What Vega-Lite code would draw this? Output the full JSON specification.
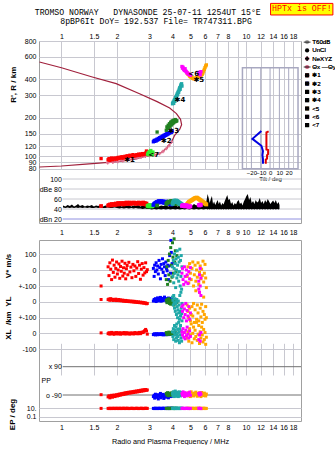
{
"$schema":"https://vega.github.io/schema/vega-lite/v6.json",
"padding":{"left":3,"top":2,"right":0,"bottom":0},
"background":"#ffffff",
"bounds":"flush",
"spacing":17,
"config":{
 "view":{"stroke":"#a0a0a0","strokeWidth":1},
 "axis":{"labelFont":"Liberation Sans","labelFontSize":7,"labelColor":"#000000","titleFont":"Liberation Sans","titleColor":"#000000","ticks":false,"domain":false,"gridColor":"#c8c8d0","gridWidth":1,"labelOverlap":false,"labelFlush":false,"labelBound":false}
},
"resolve":{"scale":{"color":"independent"}},
"datasets":{
 "prof":[{"i":1,"f":0.76,"h":82.5},{"i":2,"f":1.0,"h":84},{"i":3,"f":1.3,"h":86.5},{"i":4,"f":1.6,"h":88.5},{"i":5,"f":2.07,"h":91.4},{"i":6,"f":2.5,"h":95},{"i":7,"f":2.77,"h":99},{"i":8,"f":3.1,"h":102},{"i":9,"f":3.41,"h":105},{"i":10,"f":3.7,"h":115},{"i":11,"f":3.94,"h":129},{"i":12,"f":4.11,"h":146},{"i":13,"f":4.38,"h":163},{"i":14,"f":4.48,"h":177},{"i":15,"f":4.42,"h":195},{"i":16,"f":4.2,"h":216},{"i":17,"f":3.86,"h":239},{"i":18,"f":3.3,"h":268},{"i":19,"f":2.65,"h":309},{"i":20,"f":1.98,"h":371},{"i":21,"f":1.47,"h":418},{"i":22,"f":1.0,"h":494},{"i":23,"f":0.76,"h":548}],
 "nexyz":[{"f":1.78,"h":89},{"f":1.9,"h":90},{"f":2.02,"h":91},{"f":2.15,"h":92.5},{"f":2.28,"h":94},{"f":2.42,"h":95.5},{"f":2.56,"h":97},{"f":2.7,"h":98.5},{"f":2.85,"h":100},{"f":3.0,"h":101.5},{"f":3.2,"h":103},{"f":3.4,"h":105},{"f":3.55,"h":109},{"f":3.7,"h":115},{"f":3.82,"h":121},{"f":3.94,"h":129}],
 "tilt":[{"s":"x","i":1,"t":-1.5,"h":157},{"s":"x","i":2,"t":-3.9,"h":154},{"s":"x","i":3,"t":-3.9,"h":143},{"s":"x","i":4,"t":-3.9,"h":113},{"s":"x","i":5,"t":-2.1,"h":112},{"s":"x","i":6,"t":-2.1,"h":104},{"s":"x","i":7,"t":-3.2,"h":102},{"s":"x","i":8,"t":-3.2,"h":96},{"s":"x","i":9,"t":-4.6,"h":94},{"s":"x","i":10,"t":-4.6,"h":87.5},
   {"s":"y","i":1,"t":-9.3,"h":158},{"s":"y","i":2,"t":-18.9,"h":137},{"s":"y","i":3,"t":-9.3,"h":121},{"s":"y","i":4,"t":-7.6,"h":110},{"s":"y","i":5,"t":-8.2,"h":102},{"s":"y","i":6,"t":-7.6,"h":95},{"s":"y","i":7,"t":-7.6,"h":87.5}],
 "noise":[{"f":1.02,"hi":47,"lo":43},{"f":1.05,"hi":45,"lo":42},{"f":1.08,"hi":48,"lo":43},{"f":1.11,"hi":46,"lo":42},{"f":1.14,"hi":49,"lo":43},{"f":1.17,"hi":45,"lo":42},{"f":1.2,"hi":47,"lo":43},{"f":1.23,"hi":50,"lo":42},{"f":1.26,"hi":46,"lo":43},{"f":1.3,"hi":48,"lo":42},{"f":1.34,"hi":45,"lo":43},{"f":1.38,"hi":47,"lo":42},{"f":1.42,"hi":46,"lo":43},{"f":1.46,"hi":48,"lo":42},{"f":1.5,"hi":45,"lo":42},{"f":1.54,"hi":47,"lo":43},{"f":1.58,"hi":46,"lo":42},{"f":1.63,"hi":48,"lo":43},{"f":1.68,"hi":45,"lo":42},{"f":1.73,"hi":47,"lo":42},{"f":1.78,"hi":46,"lo":43},{"f":1.83,"hi":48,"lo":42},{"f":1.88,"hi":45,"lo":42},{"f":1.94,"hi":47,"lo":43},{"f":2.0,"hi":46,"lo":42},{"f":2.06,"hi":48,"lo":41},{"f":2.12,"hi":45,"lo":42},{"f":2.18,"hi":47,"lo":41},{"f":2.25,"hi":46,"lo":42},{"f":2.32,"hi":48,"lo":41},{"f":2.39,"hi":45,"lo":42},{"f":2.46,"hi":47,"lo":41},{"f":2.53,"hi":46,"lo":42},{"f":2.6,"hi":48,"lo":41},{"f":2.68,"hi":45,"lo":41},{"f":2.76,"hi":47,"lo":40},{"f":2.84,"hi":46,"lo":41},{"f":2.92,"hi":48,"lo":40},{"f":3.0,"hi":45,"lo":40},{"f":3.09,"hi":47,"lo":39},{"f":3.18,"hi":46,"lo":40},{"f":3.27,"hi":48,"lo":39},{"f":3.37,"hi":45,"lo":40},{"f":3.47,"hi":47,"lo":39},{"f":3.57,"hi":46,"lo":40},{"f":3.68,"hi":48,"lo":39},{"f":3.79,"hi":45,"lo":40},{"f":3.9,"hi":47,"lo":39},{"f":4.02,"hi":46,"lo":40},{"f":4.14,"hi":48,"lo":39},{"f":4.26,"hi":45,"lo":40},{"f":4.39,"hi":47,"lo":39},{"f":4.52,"hi":46,"lo":40},{"f":4.65,"hi":48,"lo":39},{"f":4.79,"hi":45,"lo":40},{"f":4.93,"hi":49,"lo":39},{"f":5.08,"hi":46,"lo":40},{"f":5.23,"hi":50,"lo":39},{"f":5.39,"hi":47,"lo":40},{"f":5.55,"hi":52,"lo":39},{"f":5.72,"hi":48,"lo":40},{"f":5.89,"hi":55,"lo":39},{"f":6.06,"hi":50,"lo":40},
  {"f":6.12,"hi":58,"lo":40},{"f":6.2,"hi":70,"lo":39},{"f":6.28,"hi":62,"lo":40},{"f":6.36,"hi":52,"lo":39},{"f":6.45,"hi":60,"lo":40},{"f":6.54,"hi":66,"lo":39},{"f":6.63,"hi":50,"lo":40},{"f":6.72,"hi":55,"lo":39},{"f":6.82,"hi":48,"lo":40},{"f":6.92,"hi":53,"lo":39},{"f":7.02,"hi":58,"lo":40},{"f":7.12,"hi":50,"lo":39},{"f":7.23,"hi":55,"lo":40},{"f":7.34,"hi":47,"lo":39},{"f":7.45,"hi":52,"lo":40},{"f":7.56,"hi":49,"lo":39},{"f":7.68,"hi":56,"lo":40},{"f":7.8,"hi":62,"lo":39},{"f":7.92,"hi":68,"lo":40},{"f":8.04,"hi":58,"lo":39},{"f":8.17,"hi":60,"lo":40},{"f":8.3,"hi":50,"lo":39},{"f":8.43,"hi":54,"lo":40},{"f":8.56,"hi":47,"lo":39},{"f":8.7,"hi":52,"lo":40},{"f":8.84,"hi":49,"lo":39},{"f":8.98,"hi":55,"lo":40},{"f":9.13,"hi":58,"lo":39},{"f":9.28,"hi":50,"lo":40},{"f":9.43,"hi":53,"lo":39},{"f":9.58,"hi":47,"lo":40},{"f":9.74,"hi":55,"lo":39},{"f":9.9,"hi":60,"lo":40},{"f":10.06,"hi":66,"lo":39},{"f":10.23,"hi":70,"lo":40},{"f":10.4,"hi":58,"lo":39},{"f":10.57,"hi":64,"lo":40},{"f":10.75,"hi":52,"lo":39},{"f":10.93,"hi":56,"lo":40},{"f":11.11,"hi":50,"lo":39},{"f":11.3,"hi":58,"lo":40},{"f":11.49,"hi":53,"lo":39},{"f":11.68,"hi":55,"lo":40},{"f":11.88,"hi":62,"lo":39},{"f":12.08,"hi":52,"lo":40},{"f":12.28,"hi":56,"lo":39},{"f":12.49,"hi":50,"lo":40},{"f":12.7,"hi":58,"lo":39},{"f":12.91,"hi":53,"lo":40},{"f":13.13,"hi":60,"lo":39},{"f":13.35,"hi":55,"lo":40},{"f":13.58,"hi":50,"lo":39},{"f":13.81,"hi":54,"lo":40},{"f":14.04,"hi":57,"lo":39},{"f":14.28,"hi":52,"lo":40},{"f":14.52,"hi":58,"lo":39},{"f":14.77,"hi":50,"lo":40},{"f":15.02,"hi":54,"lo":39},{"f":15.2,"hi":48,"lo":40}],
 "echoes":[
  {"f":1.64,"h":96,"a":46,"v":-100,"yl":15,"xl":3,"pp":-88,"ep":10,"c":"✱1"},
  {"f":1.79,"h":94,"a":47,"v":20,"yl":14,"xl":-2,"pp":-102,"ep":10,"c":"✱1"},
  {"f":1.81,"h":96,"a":48,"v":-35,"yl":18,"xl":4,"pp":-95,"ep":9,"c":"✱1"},
  {"f":1.83,"h":93,"a":49,"v":45,"yl":10,"xl":-5,"pp":-108,"ep":11,"c":"✱1"},
  {"f":1.85,"h":95,"a":47,"v":5,"yl":20,"xl":1,"pp":-99,"ep":10,"c":"✱1"},
  {"f":1.87,"h":97,"a":50,"v":-60,"yl":12,"xl":6,"pp":-92,"ep":9,"c":"✱1"},
  {"f":1.89,"h":94,"a":48,"v":62,"yl":16,"xl":-3,"pp":-104,"ep":10,"c":"✱1"},
  {"f":1.91,"h":96,"a":49,"v":-15,"yl":9,"xl":2,"pp":-97,"ep":11,"c":"✱1"},
  {"f":1.93,"h":95,"a":50,"v":30,"yl":14,"xl":-6,"pp":-90,"ep":10,"c":"✱1"},
  {"f":1.95,"h":97,"a":48,"v":-45,"yl":11,"xl":3,"pp":-100,"ep":9,"c":"✱1"},
  {"f":1.97,"h":96,"a":51,"v":10,"yl":17,"xl":-1,"pp":-94,"ep":10,"c":"✱1"},
  {"f":1.99,"h":95,"a":49,"v":50,"yl":8,"xl":5,"pp":-88,"ep":11,"c":"✱1"},
  {"f":2.01,"h":97,"a":50,"v":-25,"yl":13,"xl":-4,"pp":-96,"ep":10,"c":"✱1"},
  {"f":2.03,"h":98,"a":52,"v":0,"yl":10,"xl":2,"pp":-86,"ep":9,"c":"✱1"},
  {"f":2.05,"h":96,"a":49,"v":38,"yl":15,"xl":-2,"pp":-93,"ep":10,"c":"✱1"},
  {"f":2.07,"h":98,"a":51,"v":-52,"yl":7,"xl":4,"pp":-84,"ep":11,"c":"✱1"},
  {"f":2.09,"h":97,"a":50,"v":22,"yl":12,"xl":-5,"pp":-90,"ep":10,"c":"✱1"},
  {"f":2.11,"h":99,"a":52,"v":-8,"yl":9,"xl":1,"pp":-82,"ep":9,"c":"✱1"},
  {"f":2.13,"h":97,"a":50,"v":55,"yl":6,"xl":-3,"pp":-88,"ep":10,"c":"✱1"},
  {"f":2.15,"h":99,"a":51,"v":-38,"yl":11,"xl":3,"pp":-80,"ep":10,"c":"✱1"},
  {"f":2.17,"h":97,"a":49,"v":14,"yl":5,"xl":-1,"pp":-86,"ep":11,"c":"✱1"},
  {"f":2.19,"h":98,"a":52,"v":-20,"yl":8,"xl":5,"pp":-78,"ep":10,"c":"✱1"},
  {"f":2.21,"h":100,"a":50,"v":42,"yl":4,"xl":-4,"pp":-84,"ep":9,"c":"✱1"},
  {"f":2.23,"h":98,"a":51,"v":-55,"yl":9,"xl":2,"pp":-76,"ep":10,"c":"✱1"},
  {"f":2.25,"h":99,"a":53,"v":8,"yl":3,"xl":-2,"pp":-82,"ep":10,"c":"✱1"},
  {"f":2.27,"h":101,"a":50,"v":28,"yl":7,"xl":4,"pp":-74,"ep":11,"c":"✱1"},
  {"f":2.29,"h":99,"a":52,"v":-30,"yl":2,"xl":-3,"pp":-80,"ep":10,"c":"✱1"},
  {"f":2.32,"h":100,"a":51,"v":48,"yl":6,"xl":1,"pp":-72,"ep":9,"c":"✱1"},
  {"f":2.35,"h":102,"a":53,"v":-12,"yl":1,"xl":-5,"pp":-78,"ep":10,"c":"✱1"},
  {"f":2.38,"h":100,"a":50,"v":18,"yl":5,"xl":3,"pp":-70,"ep":10,"c":"✱1"},
  {"f":2.41,"h":101,"a":52,"v":-48,"yl":0,"xl":-2,"pp":-76,"ep":11,"c":"✱1"},
  {"f":2.44,"h":103,"a":51,"v":35,"yl":4,"xl":2,"pp":-68,"ep":10,"c":"✱1"},
  {"f":2.47,"h":100,"a":53,"v":-5,"yl":-2,"xl":-4,"pp":-74,"ep":9,"c":"✱1"},
  {"f":2.5,"h":102,"a":52,"v":25,"yl":3,"xl":5,"pp":-66,"ep":10,"c":"✱1"},
  {"f":2.53,"h":101,"a":50,"v":-40,"yl":-3,"xl":-1,"pp":-72,"ep":10,"c":"✱1"},
  {"f":2.56,"h":103,"a":52,"v":12,"yl":1,"xl":3,"pp":-64,"ep":11,"c":"✱1"},
  {"f":2.59,"h":102,"a":51,"v":52,"yl":-4,"xl":-3,"pp":-70,"ep":10,"c":"✱1"},
  {"f":2.62,"h":104,"a":53,"v":-22,"yl":0,"xl":2,"pp":-62,"ep":9,"c":"✱1"},
  {"f":2.65,"h":102,"a":52,"v":30,"yl":-5,"xl":6,"pp":-68,"ep":10,"c":"✱1"},
  {"f":2.68,"h":104,"a":50,"v":-58,"yl":-2,"xl":-2,"pp":-60,"ep":10,"c":"✱1"},
  {"f":2.71,"h":103,"a":52,"v":5,"yl":-6,"xl":4,"pp":-66,"ep":11,"c":"✱1"},
  {"f":2.74,"h":105,"a":51,"v":40,"yl":-3,"xl":8,"pp":-58,"ep":10,"c":"✱1"},
  {"f":2.77,"h":103,"a":53,"v":-32,"yl":-8,"xl":5,"pp":-64,"ep":9,"c":"✱1"},
  {"f":2.8,"h":105,"a":50,"v":15,"yl":-5,"xl":12,"pp":-56,"ep":10,"c":"✱1"},
  {"f":2.83,"h":104,"a":52,"v":-18,"yl":-9,"xl":18,"pp":-62,"ep":10,"c":"✱1"},
  {"f":2.86,"h":106,"a":49,"v":45,"yl":-7,"xl":25,"pp":-55,"ep":11,"c":"✱1"},
  {"f":2.89,"h":110,"a":51,"v":-10,"yl":-12,"xl":15,"pp":-60,"ep":10,"c":"✱1"},
  {"f":2.92,"h":104,"a":48,"v":2,"yl":-10,"xl":-5,"pp":-58,"ep":10,"c":"✱1"},
  {"f":2.93,"h":104,"a":46,"c":"<7"},{"f":2.96,"h":107,"a":47,"c":"<7"},{"f":2.98,"h":103,"a":45,"c":"<7"},{"f":3.0,"h":109,"a":48,"c":"<7"},{"f":3.02,"h":105,"a":46,"c":"<7"},{"f":3.05,"h":111,"a":47,"c":"<7"},{"f":3.08,"h":106,"a":45,"c":"<7"},{"f":3.11,"h":103,"a":46,"c":"<7"},{"f":3.13,"h":108,"a":47,"c":"<7"},
  {"f":3.15,"h":130,"a":48,"v":10,"yl":5,"xl":-8,"pp":-100,"ep":10,"c":"✱2"},
  {"f":3.18,"h":133,"a":50,"v":-40,"yl":15,"xl":-5,"pp":-92,"ep":10,"c":"✱2"},
  {"f":3.2,"h":131,"a":51,"v":30,"yl":8,"xl":-3,"pp":-110,"ep":9,"c":"✱2"},
  {"f":3.23,"h":134,"a":52,"v":-10,"yl":20,"xl":-10,"pp":-85,"ep":11,"c":"✱2"},
  {"f":3.26,"h":132,"a":53,"v":45,"yl":2,"xl":-6,"pp":-98,"ep":10,"c":"✱2"},
  {"f":3.29,"h":136,"a":54,"v":0,"yl":12,"xl":-2,"pp":-105,"ep":10,"c":"✱2"},
  {"f":3.32,"h":134,"a":52,"v":25,"yl":25,"xl":-9,"pp":-88,"ep":9,"c":"✱2"},
  {"f":3.35,"h":138,"a":55,"v":-25,"yl":6,"xl":-4,"pp":-115,"ep":10,"c":"✱2"},
  {"f":3.38,"h":136,"a":56,"v":60,"yl":18,"xl":-7,"pp":-95,"ep":11,"c":"✱2"},
  {"f":3.41,"h":140,"a":54,"v":15,"yl":10,"xl":-3,"pp":-102,"ep":10,"c":"✱2"},
  {"f":3.44,"h":138,"a":55,"v":-55,"yl":28,"xl":-8,"pp":-80,"ep":10,"c":"✱2"},
  {"f":3.47,"h":142,"a":53,"v":35,"yl":4,"xl":-5,"pp":-108,"ep":9,"c":"✱2"},
  {"f":3.5,"h":140,"a":56,"v":5,"yl":15,"xl":-2,"pp":-92,"ep":10,"c":"✱2"},
  {"f":3.53,"h":144,"a":54,"v":70,"yl":22,"xl":-6,"pp":-98,"ep":10,"c":"✱2"},
  {"f":3.56,"h":142,"a":55,"v":-15,"yl":8,"xl":-10,"pp":-86,"ep":11,"c":"✱2"},
  {"f":3.59,"h":146,"a":53,"v":40,"yl":16,"xl":-4,"pp":-112,"ep":10,"c":"✱2"},
  {"f":3.62,"h":144,"a":52,"v":20,"yl":30,"xl":-7,"pp":-94,"ep":10,"c":"✱2"},
  {"f":3.65,"h":148,"a":54,"v":-35,"yl":12,"xl":-3,"pp":-100,"ep":9,"c":"✱2"},
  {"f":3.68,"h":146,"a":55,"v":50,"yl":20,"xl":-9,"pp":-88,"ep":10,"c":"✱2"},
  {"f":3.71,"h":150,"a":53,"v":10,"yl":5,"xl":-5,"pp":-104,"ep":10,"c":"✱2"},
  {"f":3.74,"h":148,"a":52,"v":-5,"yl":18,"xl":-6,"pp":-96,"ep":11,"c":"✱2"},
  {"f":3.77,"h":152,"a":54,"v":30,"yl":10,"xl":-2,"pp":-90,"ep":10,"c":"✱2"},
  {"f":3.8,"h":150,"a":51,"v":-60,"yl":24,"xl":-8,"pp":-108,"ep":10,"c":"✱2"},
  {"f":3.83,"h":154,"a":53,"v":25,"yl":14,"xl":-4,"pp":-95,"ep":9,"c":"✱2"},
  {"f":3.86,"h":152,"a":50,"v":90,"yl":8,"xl":-6,"pp":-86,"ep":10,"c":"✱2"},
  {"f":3.9,"h":156,"a":52,"v":-20,"yl":16,"xl":-3,"pp":-100,"ep":10,"c":"✱2"},
  {"f":3.92,"h":155,"a":50,"v":185,"yl":20,"xl":-5,"pp":-94,"ep":10,"c":"✱2"},
  {"f":3.94,"h":154,"a":49,"v":110,"yl":22,"xl":-5,"pp":-92,"ep":11,"c":"✱2"},
  {"f":3.98,"h":157,"a":50,"v":40,"yl":12,"xl":-7,"pp":-98,"ep":10,"c":"✱2"},
  {"f":3.3,"h":155,"a":47,"c":"✱3"},
  {"f":3.7,"h":160,"a":50,"v":-60,"yl":10,"xl":5,"pp":-80,"ep":10,"c":"✱3"},
  {"f":3.73,"h":170,"a":52,"v":20,"yl":-5,"xl":-8,"pp":-90,"ep":10,"c":"✱3"},
  {"f":3.76,"h":165,"a":53,"v":-90,"yl":15,"xl":2,"pp":-75,"ep":9,"c":"✱3"},
  {"f":3.79,"h":175,"a":54,"v":60,"yl":0,"xl":-5,"pp":-95,"ep":10,"c":"✱3"},
  {"f":3.82,"h":168,"a":55,"v":-30,"yl":20,"xl":8,"pp":-85,"ep":11,"c":"✱3"},
  {"f":3.85,"h":180,"a":53,"v":100,"yl":-10,"xl":-3,"pp":-78,"ep":10,"c":"✱3"},
  {"f":3.88,"h":172,"a":54,"v":-70,"yl":5,"xl":4,"pp":-92,"ep":10,"c":"✱3"},
  {"f":3.91,"h":185,"a":55,"v":140,"yl":-15,"xl":-6,"pp":-82,"ep":9,"c":"✱3"},
  {"f":3.94,"h":176,"a":56,"v":30,"yl":10,"xl":0,"pp":-88,"ep":10,"c":"✱3"},
  {"f":3.97,"h":188,"a":54,"v":-45,"yl":-8,"xl":6,"pp":-76,"ep":10,"c":"✱3"},
  {"f":4.0,"h":180,"a":53,"v":170,"yl":2,"xl":-4,"pp":-94,"ep":11,"c":"✱3"},
  {"f":4.02,"h":190,"a":55,"v":80,"yl":-12,"xl":3,"pp":-80,"ep":10,"c":"✱3"},
  {"f":4.05,"h":183,"a":52,"v":-20,"yl":8,"xl":-7,"pp":-86,"ep":10,"c":"✱3"},
  {"f":4.08,"h":192,"a":54,"v":195,"yl":-20,"xl":2,"pp":-72,"ep":9,"c":"✱3"},
  {"f":4.11,"h":186,"a":53,"v":50,"yl":0,"xl":-2,"pp":-90,"ep":10,"c":"✱3"},
  {"f":4.14,"h":194,"a":51,"v":120,"yl":-6,"xl":5,"pp":-82,"ep":10,"c":"✱3"},
  {"f":4.18,"h":188,"a":52,"v":-10,"yl":12,"xl":-5,"pp":-78,"ep":11,"c":"✱3"},
  {"f":4.22,"h":190,"a":50,"v":90,"yl":-3,"xl":1,"pp":-84,"ep":10,"c":"✱3"},
  {"f":4.0,"h":258,"a":50,"v":20,"yl":30,"xl":10,"pp":-80,"ep":10,"c":"✱4"},
  {"f":4.02,"h":262,"a":52,"v":-40,"yl":10,"xl":-20,"pp":-95,"ep":11,"c":"✱4"},
  {"f":4.04,"h":266,"a":54,"v":60,"yl":-20,"xl":30,"pp":-70,"ep":9,"c":"✱4"},
  {"f":4.06,"h":260,"a":55,"v":-80,"yl":40,"xl":-40,"pp":-88,"ep":10,"c":"✱4"},
  {"f":4.08,"h":272,"a":56,"v":10,"yl":-5,"xl":5,"pp":-100,"ep":10,"c":"✱4"},
  {"f":4.1,"h":278,"a":57,"v":100,"yl":-40,"xl":50,"pp":-75,"ep":11,"c":"✱4"},
  {"f":4.12,"h":270,"a":55,"v":-20,"yl":20,"xl":-10,"pp":-92,"ep":10,"c":"✱4"},
  {"f":4.14,"h":285,"a":54,"v":40,"yl":-60,"xl":20,"pp":-65,"ep":9,"c":"✱4"},
  {"f":4.16,"h":290,"a":56,"v":-110,"yl":-10,"xl":-50,"pp":-85,"ep":10,"c":"✱4"},
  {"f":4.18,"h":282,"a":57,"v":70,"yl":0,"xl":40,"pp":-98,"ep":10,"c":"✱4"},
  {"f":4.2,"h":296,"a":55,"v":0,"yl":-80,"xl":-30,"pp":-78,"ep":11,"c":"✱4"},
  {"f":4.22,"h":300,"a":54,"v":-50,"yl":15,"xl":60,"pp":-90,"ep":10,"c":"✱4"},
  {"f":4.24,"h":308,"a":56,"v":120,"yl":-30,"xl":0,"pp":-72,"ep":9,"c":"✱4"},
  {"f":4.26,"h":304,"a":55,"v":30,"yl":-100,"xl":-20,"pp":-95,"ep":10,"c":"✱4"},
  {"f":4.28,"h":315,"a":53,"v":-30,"yl":-50,"xl":25,"pp":-82,"ep":10,"c":"✱4"},
  {"f":4.3,"h":322,"a":54,"v":80,"yl":5,"xl":-45,"pp":-100,"ep":11,"c":"✱4"},
  {"f":4.32,"h":318,"a":52,"v":-70,"yl":-70,"xl":70,"pp":-76,"ep":10,"c":"✱4"},
  {"f":4.34,"h":330,"a":53,"v":50,"yl":-20,"xl":10,"pp":-88,"ep":9,"c":"✱4"},
  {"f":4.36,"h":338,"a":51,"v":-10,"yl":-110,"xl":-60,"pp":-70,"ep":10,"c":"✱4"},
  {"f":4.38,"h":345,"a":52,"v":130,"yl":40,"xl":30,"pp":-92,"ep":10,"c":"✱4"},
  {"f":4.4,"h":335,"a":50,"v":-100,"yl":-60,"xl":-10,"pp":-84,"ep":11,"c":"✱4"},
  {"f":4.42,"h":352,"a":51,"v":60,"yl":-90,"xl":50,"pp":-96,"ep":10,"c":"✱4"},
  {"f":4.44,"h":360,"a":50,"v":-40,"yl":60,"xl":-30,"pp":-78,"ep":9,"c":"✱4"},
  {"f":4.46,"h":365,"a":49,"v":90,"yl":-40,"xl":15,"pp":-90,"ep":10,"c":"✱4"},
  {"f":4.48,"h":370,"a":48,"v":-120,"yl":-75,"xl":-50,"pp":-86,"ep":10,"c":"✱4"},
  {"f":4.5,"h":355,"a":49,"v":20,"yl":-10,"xl":80,"pp":-74,"ep":11,"c":"✱4"},
  {"f":4.8,"h":450,"a":50,"v":-40,"yl":-20,"xl":-30,"pp":-85,"ep":10,"c":"<5"},
  {"f":4.85,"h":440,"a":52,"v":20,"yl":-60,"xl":10,"pp":-95,"ep":10,"c":"<5"},
  {"f":4.9,"h":435,"a":54,"v":-80,"yl":-100,"xl":-50,"pp":-75,"ep":11,"c":"<5"},
  {"f":4.95,"h":425,"a":55,"v":40,"yl":-40,"xl":30,"pp":-88,"ep":10,"c":"<5"},
  {"f":5.0,"h":420,"a":56,"v":-20,"yl":-120,"xl":-10,"pp":-100,"ep":9,"c":"<5"},
  {"f":5.05,"h":415,"a":57,"v":-60,"yl":-80,"xl":60,"pp":-70,"ep":10,"c":"<5"},
  {"f":5.1,"h":412,"a":58,"v":10,"yl":-30,"xl":-60,"pp":-92,"ep":10,"c":"<5"},
  {"f":5.15,"h":408,"a":59,"v":50,"yl":-90,"xl":0,"pp":-82,"ep":11,"c":"<5"},
  {"f":5.2,"h":405,"a":60,"v":-100,"yl":-10,"xl":40,"pp":-96,"ep":10,"c":"<5"},
  {"f":5.25,"h":408,"a":61,"v":-30,"yl":-130,"xl":-35,"pp":-78,"ep":9,"c":"<5"},
  {"f":5.3,"h":404,"a":62,"v":30,"yl":-50,"xl":20,"pp":-90,"ep":10,"c":"<5"},
  {"f":5.35,"h":410,"a":62,"v":-70,"yl":70,"xl":-20,"pp":-72,"ep":10,"c":"<5"},
  {"f":5.4,"h":412,"a":63,"v":0,"yl":-110,"xl":70,"pp":-86,"ep":11,"c":"<5"},
  {"f":5.45,"h":415,"a":62,"v":-45,"yl":-20,"xl":-45,"pp":-98,"ep":10,"c":"<5"},
  {"f":5.5,"h":418,"a":61,"v":45,"yl":-70,"xl":-5,"pp":-80,"ep":9,"c":"<5"},
  {"f":5.55,"h":420,"a":60,"v":-90,"yl":-120,"xl":50,"pp":-92,"ep":10,"c":"<5"},
  {"f":5.6,"h":425,"a":59,"v":-15,"yl":60,"xl":-65,"pp":-76,"ep":10,"c":"<5"},
  {"f":5.65,"h":428,"a":58,"v":25,"yl":-40,"xl":10,"pp":-88,"ep":11,"c":"<5"},
  {"f":5.7,"h":432,"a":57,"v":-55,"yl":-95,"xl":-30,"pp":-100,"ep":10,"c":"<5"},
  {"f":5.75,"h":435,"a":56,"v":5,"yl":-15,"xl":40,"pp":-74,"ep":9,"c":"<5"},
  {"f":5.8,"h":440,"a":55,"v":-35,"yl":-130,"xl":-10,"pp":-90,"ep":10,"c":"<5"},
  {"f":5.85,"h":450,"a":54,"v":55,"yl":-60,"xl":-55,"pp":-82,"ep":10,"c":"<5"},
  {"f":5.9,"h":465,"a":53,"v":-75,"yl":30,"xl":25,"pp":-94,"ep":11,"c":"<5"},
  {"f":5.95,"h":480,"a":52,"v":-20,"yl":-80,"xl":-40,"pp":-78,"ep":10,"c":"<5"},
  {"f":6.0,"h":495,"a":51,"v":35,"yl":-110,"xl":5,"pp":-88,"ep":9,"c":"<5"},
  {"f":6.05,"h":510,"a":50,"v":-50,"yl":-30,"xl":-70,"pp":-96,"ep":10,"c":"<5"},
  {"f":6.1,"h":520,"a":49,"v":-110,"yl":-100,"xl":-25,"pp":-84,"ep":10,"c":"<5"},
  {"f":4.5,"h":505,"a":46,"v":-20,"yl":-30,"xl":10,"pp":-80,"ep":10,"c":"<6"},
  {"f":4.53,"h":490,"a":47,"v":10,"yl":-60,"xl":-10,"pp":-92,"ep":10,"c":"<6"},
  {"f":4.56,"h":498,"a":48,"v":-60,"yl":-20,"xl":30,"pp":-70,"ep":11,"c":"<6"},
  {"f":4.6,"h":480,"a":46,"v":-90,"yl":-100,"xl":-25,"pp":-88,"ep":10,"c":"<6"},
  {"f":4.64,"h":470,"a":47,"v":20,"yl":-45,"xl":5,"pp":-100,"ep":9,"c":"<6"},
  {"f":4.68,"h":485,"a":45,"v":-40,"yl":-80,"xl":-35,"pp":-75,"ep":10,"c":"<6"},
  {"f":4.72,"h":465,"a":48,"v":-75,"yl":-10,"xl":20,"pp":-90,"ep":10,"c":"<6"},
  {"f":4.76,"h":458,"a":46,"v":0,"yl":-120,"xl":-15,"pp":-82,"ep":11,"c":"<6"},
  {"f":4.8,"h":450,"a":47,"v":-30,"yl":-55,"xl":40,"pp":-95,"ep":10,"c":"<6"},
  {"f":4.85,"h":445,"a":45,"v":-85,"yl":-90,"xl":-5,"pp":-78,"ep":10,"c":"<6"},
  {"f":4.9,"h":440,"a":44,"v":-10,"yl":-30,"xl":-30,"pp":-86,"ep":9,"c":"<6"},
  {"f":4.95,"h":436,"a":46,"v":-55,"yl":-110,"xl":15,"pp":-72,"ep":10,"c":"<6"},
  {"f":5.0,"h":432,"a":45,"v":15,"yl":-70,"xl":-20,"pp":-92,"ep":10,"c":"<6"},
  {"f":5.55,"h":445,"a":48,"v":-70,"yl":80,"xl":-40,"pp":-80,"ep":11,"c":"<6"},
  {"f":5.6,"h":455,"a":47,"v":-30,"yl":60,"xl":-10,"pp":-90,"ep":10,"c":"<6"},
  {"f":5.65,"h":435,"a":49,"v":10,"yl":100,"xl":-50,"pp":-76,"ep":10,"c":"<6"},
  {"f":5.7,"h":460,"a":48,"v":-50,"yl":40,"xl":5,"pp":-85,"ep":9,"c":"<6"}
 ]
},
"vconcat":[
 {
  "width":262,"height":182,
  "resolve":{"scale":{"x":"independent","y":"independent"}},
  "layer":[
   {
    "layer":[
     {"data":{"name":"prof"},"mark":{"type":"line","color":"#a0203c","strokeWidth":1.2},
      "encoding":{
       "x":{"field":"f","type":"quantitative","scale":{"type":"log","domain":[0.7557,19.88],"nice":false},"axis":{"orient":"top","values":[1,1.5,2,3,4,5,6,7,8,9,10,12,14,16,18],"labelExpr":"datum.value==9 ? '' : ''+datum.value","grid":true,"title":null,"labelPadding":2}},
       "y":{"field":"h","type":"quantitative","scale":{"type":"log","domain":[80,800],"range":[127.7,0],"nice":false},"axis":{"orient":"left","values":[80,90,100,120,150,200,300,400,600,800],"labelExpr":"''+datum.value","grid":true,"labelPadding":3,"title":"R', R / km","titleFontSize":8,"titleFontWeight":"bold","titleAngle":-90,"titleX":-26,"titleY":43.3,"titleAlign":"center","titleBaseline":"middle"}},
       "order":{"field":"i","type":"quantitative"}}},
     {"data":{"name":"nexyz"},"mark":{"type":"line","color":"#e07090","strokeWidth":1},
      "encoding":{"x":{"field":"f","type":"quantitative"},"y":{"field":"h","type":"quantitative"}}},
     {"data":{"name":"nexyz"},"mark":{"type":"point","shape":"cross","filled":true,"color":"#e07090","size":12,"opacity":1},
      "encoding":{"x":{"field":"f","type":"quantitative"},"y":{"field":"h","type":"quantitative"}}},
     {"data":{"name":"echoes"},"mark":{"type":"point","filled":true,"size":11,"opacity":1},
      "encoding":{"x":{"field":"f","type":"quantitative"},"y":{"field":"h","type":"quantitative"},
       "color":{"field":"c","type":"nominal","scale":{"domain":["T60dB","UnCl","NeXYZ","Θx —Θy","✱1","✱2","✱3","✱4","<5","<6","<7"],"range":["#a0a0a0","#000000","#e07090","#d06080","#ff0000","#0000ff","#208020","#20a8a8","#ffa500","#ff00ff","#30f030"]},
        "legend":{"orient":"none","legendX":265,"legendY":-2,"title":null,"labelFont":"Liberation Sans","labelFontSize":6.2,"labelColor":"#000000","symbolSize":18,"rowPadding":1.3,"labelOffset":2,"padding":0,"symbolStrokeWidth":0}},
       "shape":{"field":"c","type":"nominal","scale":{"domain":["T60dB","UnCl","NeXYZ","Θx —Θy","✱1","✱2","✱3","✱4","<5","<6","<7"],"range":["M-1.6,-0.2H1.6V0.2H-1.6Z","M-0.35,-0.35H0.35V0.35H-0.35Z","cross","M-1.6,-0.2H1.6V0.2H-1.6Z","square","square","square","square","square","square","square"]},
        "legend":{"orient":"none","legendX":265,"legendY":-2,"title":null,"labelFont":"Liberation Sans","labelFontSize":6.2,"labelColor":"#000000","symbolSize":18,"rowPadding":1.3,"labelOffset":2,"padding":0,"symbolStrokeWidth":0}}}},
     {"data":{"values":[{"f":2.34,"h":93,"t":"✱1"},{"f":3.7,"h":133,"t":"✱2"},{"f":4.06,"h":158,"t":"✱3"},{"f":4.39,"h":275,"t":"✱4"},{"f":5.55,"h":394,"t":"✱5"},{"f":5.21,"h":440,"t":"<6"},{"f":3.16,"h":103,"t":"<7"}]},
      "mark":{"type":"text","font":"DejaVu Sans","fontSize":7,"fontWeight":"bold","color":"#000000"},
      "encoding":{"x":{"field":"f","type":"quantitative"},"y":{"field":"h","type":"quantitative"},"text":{"field":"t"}}}
    ]
   },
   {
    "layer":[
     {"data":{"values":[{"t0":-29.6,"t1":30,"h0":80,"h1":494}]},"mark":{"type":"rect","fill":"#ffffff","fillOpacity":0,"stroke":"#a8a8c0","strokeWidth":1.5},
      "encoding":{"x":{"field":"t0","type":"quantitative","scale":{"domain":[-20,20],"range":[212.4,249.7],"nice":false,"zero":false},"axis":{"orient":"bottom","offset":-54.6,"values":[-20,-10,0,10,20],"grid":false,"title":"Tilt / deg","labelFontSize":6,"titleFontSize":6,"titleFontWeight":"normal","labelPadding":1,"titlePadding":0}},
       "x2":{"field":"t1"},
       "y":{"field":"h0","type":"quantitative","scale":{"type":"log","domain":[80,800],"range":[127.7,0],"nice":false},"axis":null},
       "y2":{"field":"h1"}}},
     {"data":{"values":[{"t":-20},{"t":-10},{"t":0},{"t":10},{"t":20}]},"mark":{"type":"rule","color":"#a8a8c0","strokeWidth":1},
      "encoding":{"x":{"field":"t","type":"quantitative"},"y":{"datum":80,"type":"quantitative"},"y2":{"datum":494}}},
     {"data":{"name":"tilt"},"mark":{"type":"line","strokeWidth":2},
      "encoding":{"x":{"field":"t","type":"quantitative"},"y":{"field":"h","type":"quantitative"},"detail":{"field":"s"},"order":{"field":"i","type":"quantitative"},
       "stroke":{"field":"s","type":"nominal","scale":{"domain":["x","y"],"range":["#e00000","#0000e0"]},"legend":null}}}
    ]
   },
   {
    "layer":[
     {"data":{"values":[{"g":40},{"g":60},{"g":80},{"g":100}]},"mark":{"type":"rule","color":"#c8c8d0","strokeWidth":1},
      "encoding":{"x":{"datum":1.016,"type":"quantitative","scale":{"type":"log","domain":[0.7557,19.88],"nice":false},"axis":null},"x2":{"datum":19.88},
       "y":{"field":"g","type":"quantitative","scale":{"domain":[20,100],"range":[178,138],"nice":false,"zero":false},"axis":{"orient":"left","values":[20,40,60,80,100],"labelExpr":"datum.value==80 ? 'dBe 80' : datum.value==20 ? 'dBn 20' : ''+datum.value","grid":false,"title":null,"labelPadding":-22.4}}}},
     {"data":{"values":[{"g":20}]},"mark":{"type":"rule","color":"#9090e0","strokeWidth":1},
      "encoding":{"x":{"datum":1.016,"type":"quantitative"},"x2":{"datum":19.88},"y":{"field":"g","type":"quantitative"}}},
     {"data":{"name":"noise"},"mark":{"type":"area","color":"#000000","opacity":1},
      "encoding":{"x":{"field":"f","type":"quantitative"},"y":{"field":"hi","type":"quantitative"},"y2":{"field":"lo"}}},
     {"data":{"name":"echoes"},"mark":{"type":"point","shape":"square","filled":true,"size":14,"opacity":1},
      "encoding":{"x":{"field":"f","type":"quantitative"},"y":{"field":"a","type":"quantitative"},
       "color":{"field":"c","type":"nominal","scale":{"domain":["T60dB","UnCl","NeXYZ","Θx —Θy","✱1","✱2","✱3","✱4","<5","<6","<7"],"range":["#a0a0a0","#000000","#e07090","#d06080","#ff0000","#0000ff","#208020","#20a8a8","#ffa500","#ff00ff","#30f030"]}}}}
    ]
   },
   {
    "layer":[
     {"data":{"values":[{"x0":13.6,"x1":29.6,"y0":1279,"y1":1576}]},
      "mark":{"type":"rect","fill":"#ffff00","stroke":"#ff0000","strokeWidth":1},
      "encoding":{"x":{"field":"x0","type":"quantitative","scale":{"type":"log","domain":[0.7557,19.88],"nice":false},"axis":null},"x2":{"field":"x1"},
       "y":{"field":"y0","type":"quantitative","scale":{"type":"log","domain":[80,800],"range":[127.7,0],"nice":false},"axis":null},"y2":{"field":"y1"}}},
     {"data":{"values":[{"x":20.1,"y":1419,"t":"HPTx is OFF!"}]},
      "mark":{"type":"text","font":"Liberation Mono","fontSize":8.3,"color":"#ff0000","align":"center","baseline":"middle"},
      "encoding":{"x":{"field":"x","type":"quantitative"},"y":{"field":"y","type":"quantitative"},"text":{"field":"t"}}},
     {"data":{"values":[{"x":0.7164,"y":1330,"t":"TROMSO NORWAY\u00a0\u00a0\u00a0DYNASONDE 25-07-11 1254UT 15°E"},{"x":0.985,"y":1135,"t":"8pBP6It DoY= 192.537 File= TR747311.BPG"}]},
      "mark":{"type":"text","font":"Liberation Mono","fontSize":8.2,"color":"#000000","align":"left","baseline":"middle"},
      "encoding":{"x":{"field":"x","type":"quantitative"},"y":{"field":"y","type":"quantitative"},"text":{"field":"t"}}}
    ]
   }
  ]
 },
 {
  "width":262,"height":181,
  "resolve":{"scale":{"y":"independent"},"axis":{"x":"independent"}},
  "layer":[
   {"data":{"name":"echoes"},"mark":{"type":"point","shape":"square","filled":true,"size":9,"opacity":1},
    "encoding":{
     "x":{"field":"f","type":"quantitative","scale":{"type":"log","domain":[0.7557,19.88],"nice":false},"axis":{"orient":"top","values":[1,1.5,2,3,4,5,6,7,8,9,10,12,14,16,18],"labelExpr":"''+datum.value","grid":false,"title":null,"labelPadding":5}},
     "y":{"field":"v","type":"quantitative","scale":{"domain":[-100,100],"range":[46,14],"nice":false,"zero":false},"axis":{"orient":"left","values":[100,0,-100],"labelExpr":"datum.value==-100 ? '+-100' : ''+datum.value","grid":true,"labelPadding":3,"title":"V* m/s","titleFontSize":8,"titleFontWeight":"bold","titleAngle":-90,"titleX":-31,"titleY":25.4,"titleAlign":"center","titleBaseline":"middle"}},
     "color":{"field":"c","type":"nominal","scale":{"domain":["T60dB","UnCl","NeXYZ","Θx —Θy","✱1","✱2","✱3","✱4","<5","<6","<7"],"range":["#a0a0a0","#000000","#e07090","#d06080","#ff0000","#0000ff","#208020","#20a8a8","#ffa500","#ff00ff","#30f030"]},"legend":null}}},
   {"data":{"name":"echoes"},"mark":{"type":"point","shape":"square","filled":true,"size":9,"opacity":1},
    "encoding":{
     "x":{"field":"f","type":"quantitative","scale":{"type":"log","domain":[0.7557,19.88],"nice":false},"axis":{"orient":"bottom","values":[1,1.5,2,3,4,5,6,7,8,9,10,12,14,16,18],"labelExpr":"datum.value==9 ? '' : ''+datum.value","grid":true,"title":"Radio and Plasma Frequency / MHz","titleFontSize":7.3,"titleFontWeight":"normal","labelPadding":2,"titlePadding":7}},
     "y":{"field":"yl","type":"quantitative","scale":{"domain":[-100,100],"range":[77.7,46],"nice":false,"zero":false},"axis":{"orient":"left","values":[0,-100],"labelExpr":"datum.value==-100 ? '+-100' : ''+datum.value","grid":true,"labelPadding":3,"title":"XL\u00a0\u00a0/km\u00a0\u00a0YL","titleFontSize":8,"titleFontWeight":"bold","titleAngle":-90,"titleX":-31,"titleY":77.7,"titleAlign":"center","titleBaseline":"middle"}},
     "color":{"field":"c","type":"nominal","legend":null}}},
   {"data":{"name":"echoes"},"mark":{"type":"point","shape":"square","filled":true,"size":9,"opacity":1},
    "encoding":{
     "x":{"field":"f","type":"quantitative","axis":null},
     "y":{"field":"xl","type":"quantitative","scale":{"domain":[-100,100],"range":[109,77.7],"nice":false,"zero":false},"axis":{"orient":"left","values":[0,-100],"labelExpr":"''+datum.value","grid":true,"labelPadding":3,"title":null}},
     "color":{"field":"c","type":"nominal","legend":null}}},
   {"data":{"values":[{"p":90},{"p":-90}]},"mark":{"type":"rule","color":"#707070","strokeWidth":1},
    "encoding":{"x":{"datum":1.016,"type":"quantitative","axis":null},"x2":{"datum":19.88},
     "y":{"field":"p","type":"quantitative","scale":{"domain":[-90,90],"range":[155,126.7],"nice":false,"zero":false},"axis":null}}},
   {"data":{"name":"echoes"},"mark":{"type":"point","shape":"square","filled":true,"size":9,"opacity":1},
    "encoding":{
     "x":{"field":"f","type":"quantitative","axis":null},
     "y":{"field":"pp","type":"quantitative","scale":{"domain":[-90,90],"range":[155,126.7],"nice":false,"zero":false},"axis":{"orient":"left","values":[90,-90],"labelExpr":"datum.value==90 ? 'x  90' : 'o  -90'","grid":false,"labelPadding":-22.4,"title":"PP","titleFontSize":7,"titleFontWeight":"normal","titleAngle":0,"titleX":6.7,"titleY":140.7,"titleAlign":"center","titleBaseline":"middle"}},
     "color":{"field":"c","type":"nominal","legend":null}}},
   {"data":{"name":"echoes"},"mark":{"type":"point","shape":"square","filled":true,"size":9,"opacity":1},
    "encoding":{
     "x":{"field":"f","type":"quantitative","axis":null},
     "y":{"field":"ep","type":"quantitative","scale":{"type":"log","domain":[0.1,10],"range":[176.7,168.4],"nice":false},"axis":{"orient":"left","values":[10,0.1],"labelExpr":"datum.value==10 ? '10.' : '0.1'","grid":true,"labelPadding":3,"title":"EP / deg","titleFontSize":8,"titleFontWeight":"bold","titleAngle":-90,"titleX":-27,"titleY":174,"titleAlign":"center","titleBaseline":"middle"}},
     "color":{"field":"c","type":"nominal","legend":null}}}
  ]
 }
]
}
